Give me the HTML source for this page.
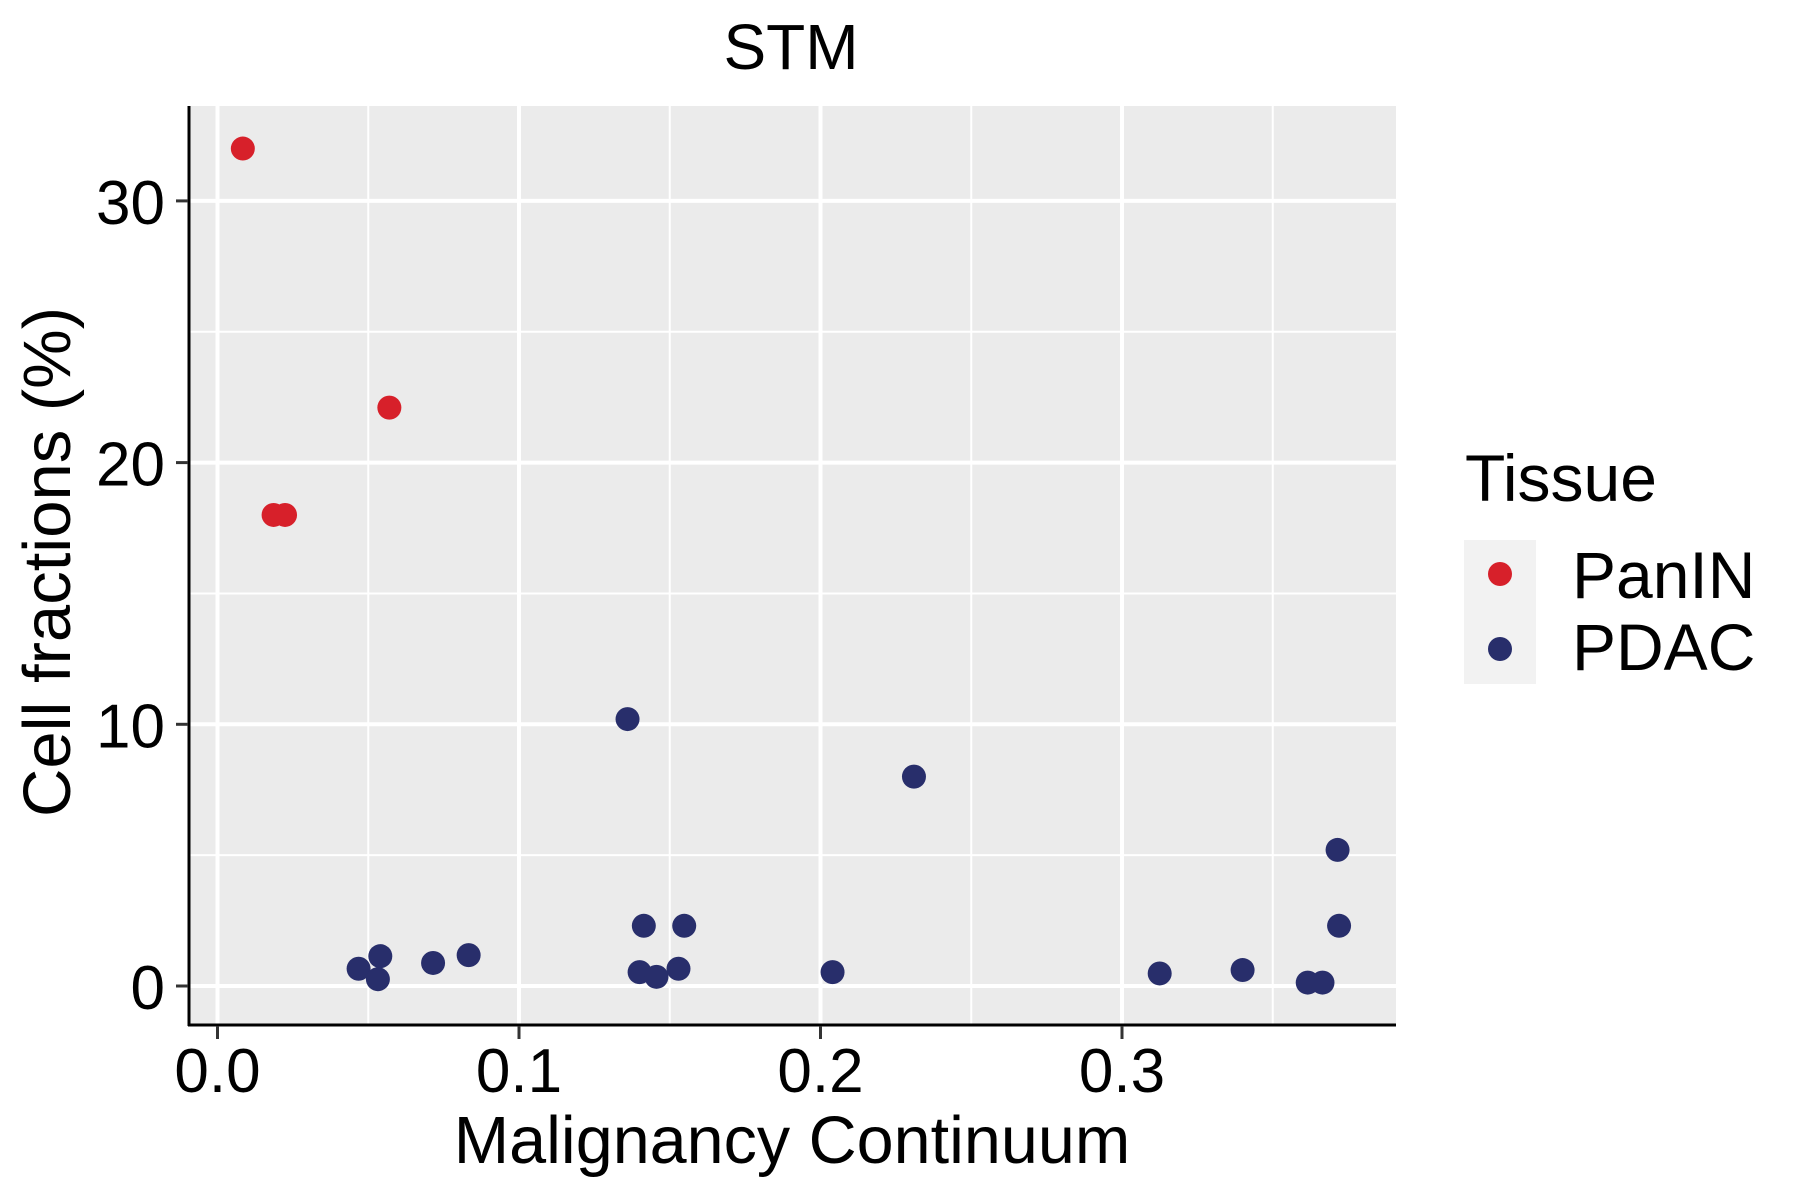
<!DOCTYPE html>
<html><head><meta charset="utf-8"><style>
body{margin:0;background:#fff}
svg{display:block;font-family:"Liberation Sans",Arial,sans-serif}
</style></head><body>
<svg id="chart" width="1800" height="1200" viewBox="0 0 1800 1200">
<rect x="0" y="0" width="1800" height="1200" fill="#fff"/>
<rect x="189" y="106" width="1207" height="919" fill="#ebebeb"/>
<g id="grid"></g>
<g id="points"></g>
<line x1="189" y1="106" x2="189" y2="1026" stroke="#000" stroke-width="3"/>
<line x1="188" y1="1025" x2="1396" y2="1025" stroke="#000" stroke-width="3"/>
<g id="axes"></g>
<text x="791" y="69" font-size="64" text-anchor="middle">STM</text>
<text x="792" y="1163" font-size="66.5" text-anchor="middle">Malignancy Continuum</text>
<text transform="translate(70,562) rotate(-90)" font-size="67" text-anchor="middle">Cell fractions (%)</text>
<g>
<text x="1465" y="501" font-size="66">Tissue</text>
<rect x="1464" y="540" width="72" height="144" fill="#f2f2f2"/>
<circle cx="1500" cy="574" r="12" fill="#d7202a"/>
<circle cx="1500" cy="649" r="12" fill="#282e6b"/>
<text x="1572" y="598" font-size="66">PanIN</text>
<text x="1572" y="670" font-size="66">PDAC</text>
</g>
</svg>
<script>
const paninX = [0.0084, 0.0186, 0.0224, 0.057];
const paninY = [32.0, 18.0, 18.0, 22.1];
const pdacX = [0.136, 0.231, 0.3715, 0.372, 0.1414, 0.1548, 0.0468, 0.054, 0.0532, 0.0715, 0.0833, 0.140, 0.1456, 0.1529, 0.204, 0.3125, 0.340, 0.3616, 0.3665];
const pdacY = [10.2, 8.0, 5.2, 2.3, 2.3, 2.3, 0.66, 1.14, 0.26, 0.88, 1.18, 0.53, 0.35, 0.66, 0.53, 0.48, 0.61, 0.13, 0.13];
const xTicks = [0.0, 0.1, 0.2, 0.3];
const xTickLabels = ["0.0", "0.1", "0.2", "0.3"];
const xMinor = [0.05, 0.15, 0.25, 0.35];
const yTicks = [0, 10, 20, 30];
const yTickLabels = ["0", "10", "20", "30"];
const yMinor = [5, 15, 25];

const NS = "http://www.w3.org/2000/svg";
function sx(v){ return 217.5 + v * 3015; }
function sy(v){ return 986 - v * 26.17; }
function mk(tag, attrs, parent){
  const e = document.createElementNS(NS, tag);
  for (const k in attrs) e.setAttribute(k, attrs[k]);
  parent.appendChild(e);
  return e;
}
const grid = document.getElementById('grid');
const axes = document.getElementById('axes');
const pts = document.getElementById('points');

xMinor.forEach(v => {
  const l = mk('line', {x1: sx(v), x2: sx(v), y1: 106, y2: 1025, stroke: '#fff', 'stroke-width': 2}, grid);
  
  
});
yMinor.forEach(v => {
  const l = mk('line', {x1: 189, x2: 1396, y1: sy(v), y2: sy(v), stroke: '#fff', 'stroke-width': 2}, grid);
  
  
});
xTicks.forEach((v, i) => {
  const l = mk('line', {x1: sx(v), x2: sx(v), y1: 106, y2: 1025, stroke: '#fff', 'stroke-width': 4}, grid);
  
  
  const t = mk('line', {x1: sx(v), x2: sx(v), y1: 1026, y2: 1039, stroke: '#333', 'stroke-width': 3}, axes);
  
  
  const tx = mk('text', {x: sx(v), y: 1092, 'font-size': 62, 'text-anchor': 'middle', fill: '#000'}, axes);
  tx.textContent = xTickLabels[i];
  
  
});
yTicks.forEach((v, i) => {
  const l = mk('line', {x1: 189, x2: 1396, y1: sy(v), y2: sy(v), stroke: '#fff', 'stroke-width': 4}, grid);
  
  
  const t = mk('line', {x1: 176, x2: 188, y1: sy(v), y2: sy(v), stroke: '#333', 'stroke-width': 3}, axes);
  
  
  const tx = mk('text', {x: 165, y: sy(v) + 23, 'font-size': 62, 'text-anchor': 'end', fill: '#000'}, axes);
  tx.textContent = yTickLabels[i];
  
  
});
paninX.forEach((v, i) => {
  const c = mk('circle', {cx: sx(v), cy: sy(paninY[i]), r: 12, fill: '#d7202a'}, pts);
  
  
});
pdacX.forEach((v, i) => {
  const c = mk('circle', {cx: sx(v), cy: sy(pdacY[i]), r: 12, fill: '#282e6b'}, pts);
  
  
});
</script>
</body></html>
